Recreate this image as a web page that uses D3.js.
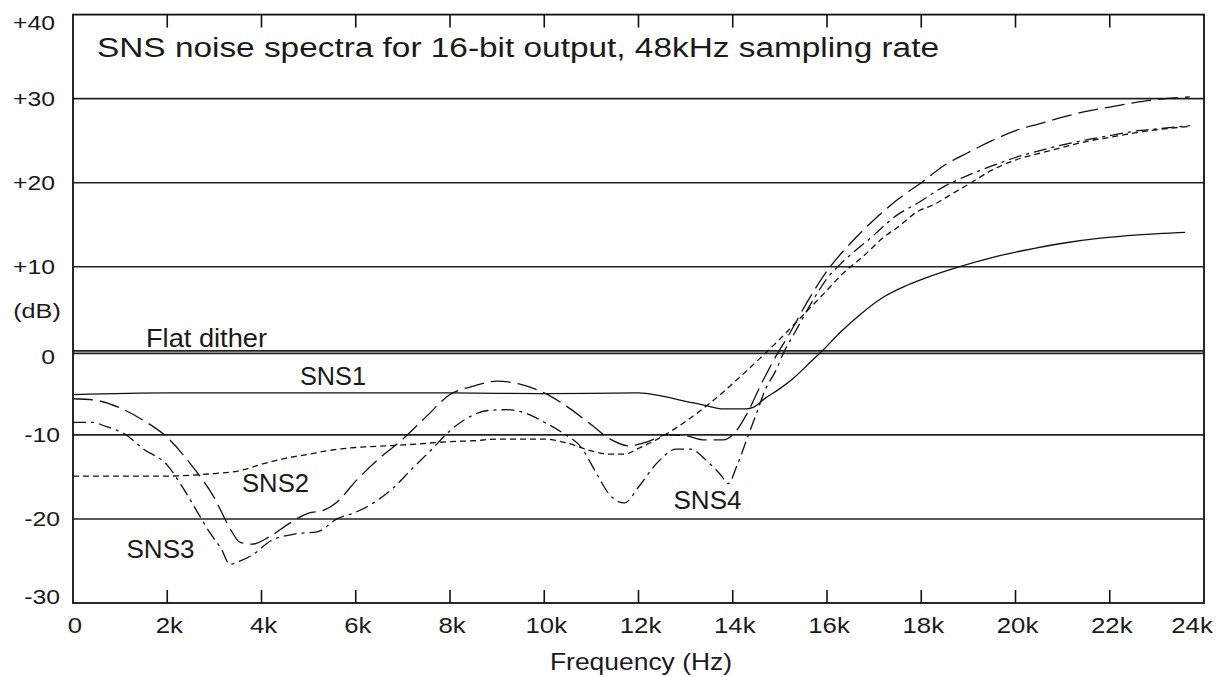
<!DOCTYPE html>
<html><head><meta charset="utf-8">
<script src="https://cdn.jsdelivr.net/npm/d3@7"></script>
<style>
html,body{margin:0;padding:0;background:#fff;}
svg{display:block;}
text{font-family:"Liberation Sans",Arial,sans-serif;fill:#1a1a1a;}
</style></head><body>
<svg id="chart" width="1227" height="677"></svg>
<script>
// ---------- data (frequency in kHz, level in dB) ----------
const title = "SNS noise spectra for 16-bit output, 48kHz sampling rate";
const xTicks = [0,2,4,6,8,10,12,14,16,18,20,22,24];
const xTickLabels = ["0","2k","4k","6k","8k","10k","12k","14k","16k","18k","20k","22k","24k"];
const yTicks = [40,30,20,10,0,-10,-20,-30];
const yTickLabels = ["+40","+30","+20","+10","0","-10","-20","-30"];
const gridLines = [30,20,10,0,-10,-20];
const flatDither = -0.3;

const sns1Freq = [0,2,4,6,8,10,12,12.5,13,13.5,13.8,14.3,14.4,14.7,15.0,15.3,15.6,15.9,16.3,16.7,17.2,17.7,18.2,18.8,19.5,20.4,21.0,21.8,22.6,23.6];
const sns1dB   = [-5.2,-5.0,-5.0,-5.0,-5.0,-5.1,-5.0,-5.4,-6.0,-6.6,-6.9,-6.9,-6.8,-5.6,-4.5,-3.2,-1.6,0,2.3,4.3,6.4,7.8,8.9,10.0,11.1,12.2,12.8,13.4,13.8,14.1];

const sns2Freq = [0,1,2,2.5,3,3.5,4,4.5,5,5.5,6,6.5,7,7.5,8,8.5,9,9.5,10,10.5,11,11.4,11.7,12,12.5,13,13.5,14,14.5,15,15.5,16,16.3,16.8,17.2,17.5,17.9,18.3,18.6,19,19.5,20,20.5,21,21.5,22,22.5,23,23.7];
const sns2dB   = [-14.9,-14.9,-14.9,-14.8,-14.6,-14.3,-13.5,-12.8,-12.3,-11.8,-11.5,-11.35,-11.2,-11.0,-10.8,-10.7,-10.5,-10.5,-10.5,-11.0,-11.9,-12.3,-12.3,-11.6,-10.2,-8.4,-6.3,-3.9,-1.3,1.4,4.3,7.2,9.0,11.4,13.5,14.7,16.5,17.5,18.5,19.8,21.5,22.7,23.5,24.2,24.9,25.4,25.9,26.3,26.7];

const sns3Freq = [0,0.5,1,1.5,2,2.5,3,3.3,3.55,3.8,4.2,4.6,5,5.3,5.6,6,6.5,7,7.5,8,8.5,9,9.5,10,10.5,11,11.4,11.8,12.2,12.6,13,13.4,13.8,14,14.3,14.6,14.9,15.2,15.6,16,16.5,17,17.5,18,18.5,19,19.5,20,20.5,21,21.5,22,22.5,23,23.7];
const sns3dB   = [-5.7,-5.9,-6.8,-8.3,-10.3,-13.5,-17.5,-20.8,-22.8,-23.0,-22.0,-20.5,-19.3,-19.0,-18.0,-15.5,-12.8,-10.5,-7.8,-5.2,-4.2,-3.6,-4.0,-5.0,-6.7,-8.8,-10.5,-11.3,-10.8,-10.0,-10.1,-10.6,-10.6,-10.0,-7.5,-4.0,-0.8,2.0,6.0,9.5,12.8,15.6,18.0,20.0,22.1,23.6,25.0,26.2,27.0,27.8,28.5,29.0,29.5,29.9,30.2];

const sns4Freq = [0,0.4,0.7,1.1,1.5,2,2.3,2.6,2.9,3.15,3.33,3.55,3.8,4.2,4.7,5.2,5.6,6,6.4,6.8,7.2,7.6,8,8.4,8.8,9.2,9.6,10,10.4,10.8,11.1,11.4,11.7,12.0,12.4,12.8,13.1,13.45,13.75,13.9,14.1,14.3,14.5,14.7,14.9,15.1,15.3,15.7,16.0,16.3,16.9,17.5,17.9,18.5,19,19.5,20,20.5,21,21.5,22,22.5,23,23.7];
const sns4dB   = [-8.5,-8.5,-9.0,-9.9,-11.7,-13.6,-16.0,-18.8,-21.6,-23.6,-25.4,-25.0,-24.3,-22.6,-21.8,-21.5,-20.0,-19.2,-18.0,-16.3,-14.0,-11.8,-9.5,-7.9,-7.1,-7.0,-7.4,-8.5,-9.8,-11.6,-14.5,-17.2,-18.1,-16.2,-13.3,-11.7,-11.7,-13.1,-14.8,-15.8,-13.5,-10.5,-7.5,-4.5,-2.5,0,2.0,6.0,8.6,10.4,13.3,16.2,17.5,19.6,20.9,22.0,23.0,23.8,24.5,25.1,25.6,26.1,26.4,26.8];

const curveLabels = ["Flat dither","SNS1","SNS2","SNS3","SNS4"];
const xLabel = "Frequency (Hz)";
const yLabel = "(dB)";

// ---------- layout ----------
const svg = d3.select("#chart");
const x = d3.scaleLinear().domain([0,24]).range([73,1204]);
const y = d3.scaleLinear().domain([-30,40]).range([603,14.6]);

const series = [
  {name:"SNS1", f:sns1Freq, v:sns1dB, dash:null},
  {name:"SNS2", f:sns2Freq, v:sns2dB, dash:"6,4"},
  {name:"SNS3", f:sns3Freq, v:sns3dB, dash:"20,7"},
  {name:"SNS4", f:sns4Freq, v:sns4dB, dash:"13,5,3,5"}
];

// grid lines
svg.append("g").selectAll("line").data(gridLines).join("line")
  .attr("x1",x(0)).attr("x2",x(24))
  .attr("y1",d=>y(d)).attr("y2",d=>y(d))
  .attr("stroke","#222").attr("stroke-width",1.6);

// flat dither line
svg.append("line").attr("x1",x(0)).attr("x2",x(24))
  .attr("y1",y(flatDither)).attr("y2",y(flatDither))
  .attr("stroke","#222").attr("stroke-width",1.6);

// frame
svg.append("rect").attr("x",x(0)).attr("y",y(40)).attr("width",x(24)-x(0)).attr("height",y(-30)-y(40))
  .attr("fill","none").attr("stroke","#111").attr("stroke-width",1.8);

// ticks inside top and bottom
const innerTicks = xTicks.filter(t=>t>0 && t<24);
svg.append("g").selectAll("line").data(innerTicks).join("line")
  .attr("x1",d=>x(d)).attr("x2",d=>x(d)).attr("y1",y(-30)).attr("y2",y(-30)-13)
  .attr("stroke","#111").attr("stroke-width",1.6);
svg.append("g").selectAll("line").data(innerTicks).join("line")
  .attr("x1",d=>x(d)).attr("x2",d=>x(d)).attr("y1",y(40)).attr("y2",y(40)+13)
  .attr("stroke","#111").attr("stroke-width",1.6);

// curves
svg.append("clipPath").attr("id","pc").append("rect")
  .attr("x",x(0)).attr("y",y(40)).attr("width",x(24)-x(0)).attr("height",y(-30)-y(40));
const line = d3.line().x(d=>x(d[0])).y(d=>y(d[1])).curve(d3.curveMonotoneX);
svg.append("g").attr("clip-path","url(#pc)").selectAll("path").data(series).join("path")
  .attr("d",s=>line(s.f.map((f,i)=>[f,s.v[i]])))
  .attr("fill","none").attr("stroke","#111").attr("stroke-width",1.3)
  .attr("stroke-dasharray",s=>s.dash);

// x tick labels
svg.append("g").selectAll("text").data(xTicks).join("text")
  .attr("transform",(d)=>`translate(${x(d)+(d===24?-12:2)},${633}) scale(1.12,1)`)
  .attr("text-anchor","middle").attr("font-size",23)
  .text((d,i)=>xTickLabels[i]);

// y tick labels
const yNudge = v => v===40?8:(v===0?6:(v===-30?-7:0));
svg.append("g").selectAll("text").data(yTicks).join("text")
  .attr("transform",(d)=>`translate(${d<0?60:55},${y(d)+yNudge(d)+7.5}) scale(1.18,1)`)
  .attr("text-anchor","end").attr("font-size",21)
  .text((d,i)=>yTickLabels[i]);

// axis titles
svg.append("text").attr("transform","translate(37,318) scale(1.2,1)").attr("text-anchor","middle")
  .attr("font-size",21).text(yLabel);
svg.append("text").attr("transform","translate(641,670) scale(1.15,1)").attr("text-anchor","middle")
  .attr("font-size",23).text(xLabel);

// chart title
svg.append("text").attr("x",97).attr("y",57).attr("font-size",27)
  .attr("textLength",842).attr("lengthAdjust","spacingAndGlyphs").text(title);

// curve labels
const labelSpots = [[146,346.5,121],[300,385,66],[242,491.5,67],[126.5,558,68],[673.5,509,68]];
svg.append("g").selectAll("text").data(curveLabels).join("text")
  .attr("x",(d,i)=>labelSpots[i][0]).attr("y",(d,i)=>labelSpots[i][1])
  .attr("font-size",25).attr("textLength",(d,i)=>labelSpots[i][2]).attr("lengthAdjust","spacingAndGlyphs")
  .text(d=>d);
</script>
</body></html>
